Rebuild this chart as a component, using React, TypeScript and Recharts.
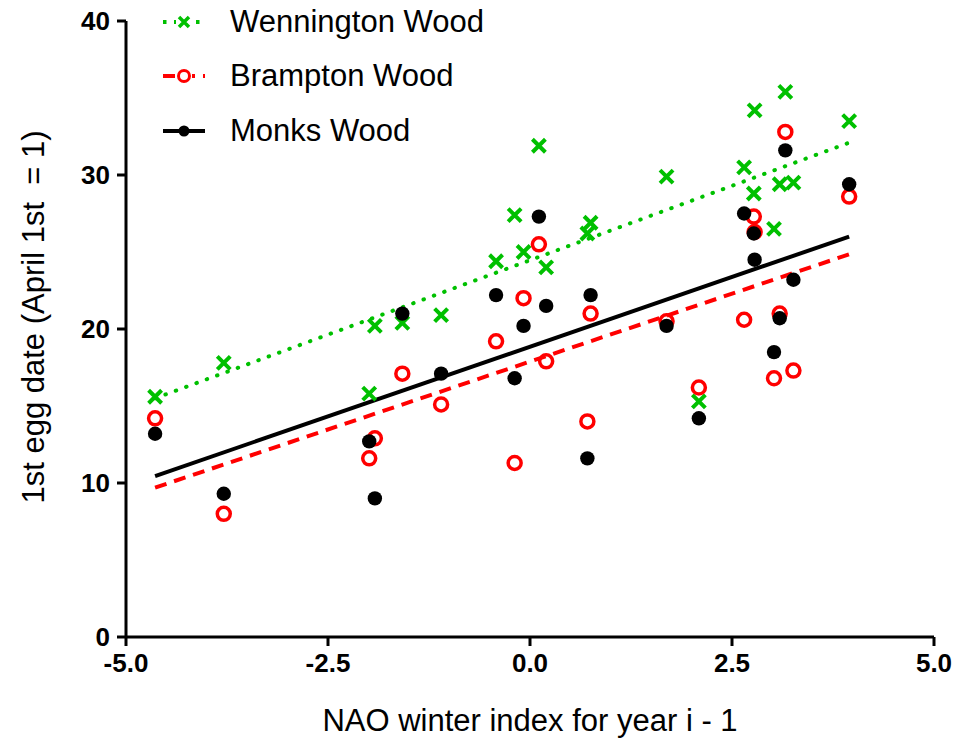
import React from "react";
import {
  ScatterChart,
  Scatter,
  XAxis,
  YAxis,
  ReferenceLine,
  Legend,
} from "recharts";

/* NAO winter index (shared by the three woods, one value per year) */
const NAO_INDEX = [
  -4.64, -3.79, -1.99, -1.92, -1.58, -1.1, -0.42, -0.19, -0.08, 0.11, 0.2, 0.71,
  0.75, 1.69, 2.09, 2.65, 2.77, 2.78, 3.02, 3.09, 3.16, 3.26, 3.95,
];

/* 1st egg date per wood */
const WENNINGTON = [
  15.6, 17.8, 15.8, 20.2, 20.4, 20.9, 24.4, 27.4, 25.0, 31.9, 24.0, 26.2, 26.9,
  29.9, 15.3, 30.5, 28.8, 34.2, 26.5, 29.4, 35.4, 29.5, 33.5,
];
const BRAMPTON = [
  14.2, 8.0, 11.6, 12.9, 17.1, 15.1, 19.2, 11.3, 22.0, 25.5, 17.9, 14.0, 21.0,
  20.5, 16.2, 20.6, 27.3, 26.3, 16.8, 21.0, 32.8, 17.3, 28.6,
];
const MONKS = [
  13.2, 9.3, 12.7, 9.0, 21.0, 17.1, 22.2, 16.8, 20.2, 27.3, 21.5, 11.6, 22.2,
  20.2, 14.2, 27.5, 26.2, 24.5, 18.5, 20.7, 31.6, 23.2, 29.4,
];

/* fitted lines, endpoints */
const FIT_X = [-4.64, 3.95];
const WENNINGTON_FIT = [15.5, 32.1];
const BRAMPTON_FIT = [9.7, 24.85];
const MONKS_FIT = [10.45, 26.0];

/* axis ticks */
const X_TICKS = [-5, -2.5, 0, 2.5, 5];
const Y_TICKS = [0, 10, 20, 30, 40];

const GREEN = "#00c000";
const RED = "#ff0000";
const BLACK = "#000000";
const FONT = "'Liberation Sans', Arial, sans-serif";

const toPoints = (ys: number[]) => NAO_INDEX.map((x, i) => ({ x, y: ys[i] }));
const toSegment = (ys: number[]) => [
  { x: FIT_X[0], y: ys[0] },
  { x: FIT_X[1], y: ys[1] },
];

/* marker shapes */
const Cross = ({ cx, cy }: any) => (
  <path
    d={`M${cx - 6.5},${cy - 6.5}L${cx + 6.5},${cy + 6.5}M${cx - 6.5},${cy + 6.5}L${cx + 6.5},${cy - 6.5}`}
    stroke={GREEN}
    strokeWidth={4}
    fill="none"
  />
);
const Ring = ({ cx, cy }: any) => (
  <circle cx={cx} cy={cy} r={6.5} stroke={RED} strokeWidth={3.5} fill="none" />
);
const Dot = ({ cx, cy }: any) => <circle cx={cx} cy={cy} r={7.2} fill={BLACK} />;

/* legend entries */
const LEGEND = [
  { name: "Wennington Wood", color: GREEN, dash: "3.5 7.5", marker: "cross" },
  { name: "Brampton Wood", color: RED, dash: "12 8", marker: "ring" },
  { name: "Monks Wood", color: BLACK, dash: undefined, marker: "dot" },
];
const LEGEND_ROW_Y = [22, 76, 131];

function LegendContent() {
  return (
    <div style={{ position: "relative", width: 400, height: 0 }}>
      {LEGEND.map((item, i) => (
        <div
          key={item.name}
          style={{
            position: "absolute",
            left: 0,
            top: LEGEND_ROW_Y[i] - 20,
            height: 40,
            display: "flex",
            alignItems: "center",
          }}
        >
          <svg width={60} height={40} style={{ display: "block" }}>
            <line
              x1={6}
              y1={20}
              x2={48}
              y2={20}
              stroke={item.color}
              strokeWidth={4}
              strokeDasharray={item.dash}
            />
            {item.marker === "cross" && (
              <>
                <rect x={19} y={12} width={16} height={16} fill="#fff" />
                <path
                  d="M22,15L32,25M22,25L32,15"
                  stroke={GREEN}
                  strokeWidth={3.5}
                  fill="none"
                />
              </>
            )}
            {item.marker === "ring" && (
              <>
                <rect x={19} y={12} width={16} height={16} fill="#fff" />
                <circle cx={27} cy={20} r={5.5} stroke={RED} strokeWidth={3} fill="#fff" />
              </>
            )}
            {item.marker === "dot" && <circle cx={27} cy={20} r={5.5} fill={BLACK} />}
          </svg>
          <span
            style={{
              marginLeft: 13,
              fontFamily: FONT,
              fontSize: 31,
              color: "#000",
              whiteSpace: "nowrap",
              lineHeight: "40px",
            }}
          >
            {item.name}
          </span>
        </div>
      ))}
    </div>
  );
}

const YLabel = ({ viewBox }: any) => {
  const x = viewBox.x + 44;
  const y = viewBox.y + viewBox.height / 2 - 12;
  return (
    <text
      x={x}
      y={y}
      transform={`rotate(-90 ${x} ${y})`}
      textAnchor="middle"
      fontFamily={FONT}
      fontSize={31}
      fill="#000"
      style={{ whiteSpace: "pre" }}
    >
      1st egg date (April 1st  = 1)
    </text>
  );
};

const XLabel = ({ viewBox }: any) => (
  <text
    x={viewBox.x + viewBox.width / 2}
    y={viewBox.y + 94}
    textAnchor="middle"
    fontFamily={FONT}
    fontSize={31}
    fill="#000"
  >
    NAO winter index for year i - 1
  </text>
);

const tickStyle = { fill: "#000", fontSize: 26, fontWeight: 700, fontFamily: FONT };

export default function App() {
  return (
    <div style={{ position: "absolute", left: 0, top: 0, background: "#fff" }}>
      <ScatterChart
        width={963}
        height={738}
        margin={{ top: 21, right: 29, left: 0, bottom: 0 }}
      >
        <XAxis
          type="number"
          dataKey="x"
          domain={[-5, 5]}
          ticks={X_TICKS}
          tickFormatter={(v: number) => v.toFixed(1)}
          height={101}
          tick={tickStyle}
          tickSize={9}
          tickMargin={8}
          axisLine={{ stroke: BLACK, strokeWidth: 3 }}
          tickLine={{ stroke: BLACK, strokeWidth: 3 }}
          label={<XLabel />}
        />
        <YAxis
          type="number"
          dataKey="y"
          domain={[0, 40]}
          ticks={Y_TICKS}
          width={126}
          tick={tickStyle}
          tickSize={9}
          tickMargin={7}
          axisLine={{ stroke: BLACK, strokeWidth: 3 }}
          tickLine={{ stroke: BLACK, strokeWidth: 3 }}
          label={<YLabel />}
        />
        <Legend
          content={<LegendContent />}
          verticalAlign="top"
          wrapperStyle={{
            position: "absolute",
            left: 157,
            top: 0,
            width: 400,
            height: 0,
            overflow: "visible",
          }}
        />
        <ReferenceLine
          segment={toSegment(WENNINGTON_FIT)}
          stroke={GREEN}
          strokeWidth={4}
          strokeLinecap="round"
          strokeDasharray="0.5 10.5"
        />
        <ReferenceLine
          segment={toSegment(BRAMPTON_FIT)}
          stroke={RED}
          strokeWidth={4}
          strokeDasharray="12 8"
        />
        <ReferenceLine segment={toSegment(MONKS_FIT)} stroke={BLACK} strokeWidth={4} />
        <Scatter
          name="Wennington Wood"
          data={toPoints(WENNINGTON)}
          shape={<Cross />}
          isAnimationActive={false}
        />
        <Scatter
          name="Brampton Wood"
          data={toPoints(BRAMPTON)}
          shape={<Ring />}
          isAnimationActive={false}
        />
        <Scatter
          name="Monks Wood"
          data={toPoints(MONKS)}
          shape={<Dot />}
          isAnimationActive={false}
        />
      </ScatterChart>
    </div>
  );
}
